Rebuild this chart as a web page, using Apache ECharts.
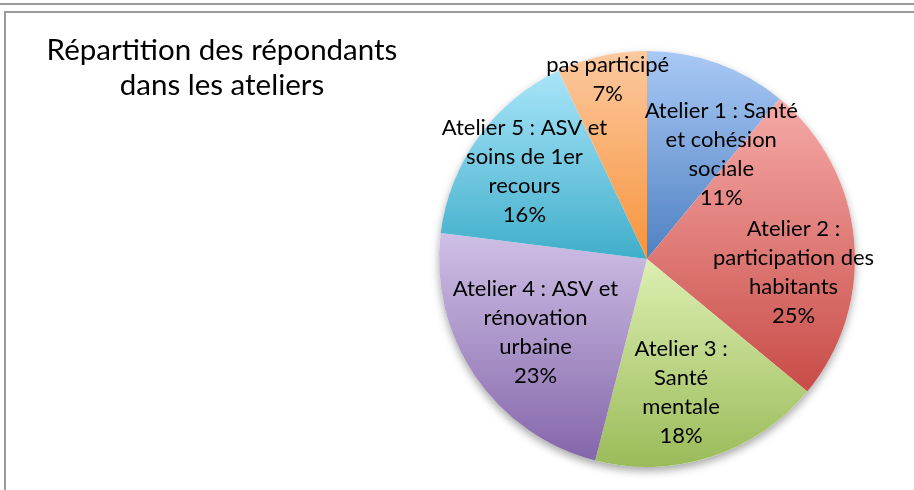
<!DOCTYPE html>
<html>
<head>
<meta charset="utf-8">
<script src="https://cdn.jsdelivr.net/npm/echarts@6/dist/echarts.min.js"></script>
<style>
html,body{margin:0;padding:0;background:#fff;}
#c{width:914px;height:490px;}
</style>
</head>
<body>
<div id="c"></div>
<script>
const categories = [
  "Atelier 1 : Santé\net cohésion\nsociale",
  "Atelier 2 :\nparticipation des\nhabitants",
  "Atelier 3 :\nSanté\nmentale",
  "Atelier 4 : ASV et\nrénovation\nurbaine",
  "Atelier 5 : ASV et\nsoins de 1er\nrecours",
  "pas participé"
];
const values = [11, 25, 18, 23, 16, 7];
const topColors = ["#a9c9f5", "#f6aaa8", "#dcefb2", "#cfc0e6", "#a9e5f9", "#fcc9a0"];
const bottomColors = ["#4f81c2", "#c84c47", "#9bbb59", "#8466aa", "#40aeca", "#f7943c"];
// label placement: [position, dx, dy]
const labelPlacement = [["inside", 38, -4], ["inside", 40, 23], ["inside", 1, 32], ["inside", -23, 13], ["inside", -36, -25], ["outside", 6, 23]];

const chart = echarts.init(document.getElementById('c'));
const data = values.map((v, i) => {
  const pl = labelPlacement[i];
  const item = {
    name: categories[i],
    value: v,
    itemStyle: {
      color: new echarts.graphic.LinearGradient(0, 0, 0, 1, [
        {offset: 0, color: topColors[i]},
        {offset: 1, color: bottomColors[i]}
      ])
    },
    label: {position: pl[0]}
  };
  if (pl[0] === 'inside') item.label.offset = [pl[1], pl[2]];
  return item;
});

chart.setOption({
  animation: false,
  title: {
    text: "Répartition des répondants\ndans les ateliers",
    left: 217,
    top: 28,
    textAlign: 'center',
    textStyle: {
      fontFamily: 'Lato',
      fontWeight: 'normal',
      fontSize: 29.5,
      lineHeight: 35,
      color: '#000'
    }
  },
  graphic: [
    {type: 'line', shape: {x1: 0, y1: 4, x2: 914, y2: 4}, style: {stroke: '#9a9a9a', lineWidth: 2}},
    {type: 'rect', shape: {x: 5, y: 12, width: 1000, height: 600}, style: {fill: 'none', stroke: '#9a9a9a', lineWidth: 2}}
  ],
  series: [
    {
      type: 'pie',
      silent: true,
      center: [647, 259],
      radius: 208,
      z: 1,
      label: {show: false},
      labelLine: {show: false},
      itemStyle: {color: '#fff', shadowBlur: 8, shadowOffsetY: 4, shadowColor: 'rgba(0,0,0,0.35)'},
      data: [{value: 1, name: ''}]
    },
    {
      type: 'pie',
      center: [647, 259],
      radius: 208,
      startAngle: 90,
      clockwise: true,
      avoidLabelOverlap: false,
      z: 2,
      label: {
        show: true,
        position: 'inside',
        formatter: (p) => p.name + '\n' + p.value + '%',
        fontFamily: 'Lato',
        fontSize: 22,
        lineHeight: 29,
        color: '#000',
        align: 'center',
        distanceToLabelLine: 0
      },
      labelLine: {show: false, length: 0, length2: 0},
      labelLayout: (params) => {
        const pl = labelPlacement[params.dataIndex];
        if (pl && pl[0] === 'outside') {
          return {align: 'center', dx: pl[1], dy: pl[2]};
        }
        return {};
      },
      itemStyle: {borderWidth: 0},
      data: data
    }
  ]
});
</script>
</body>
</html>
